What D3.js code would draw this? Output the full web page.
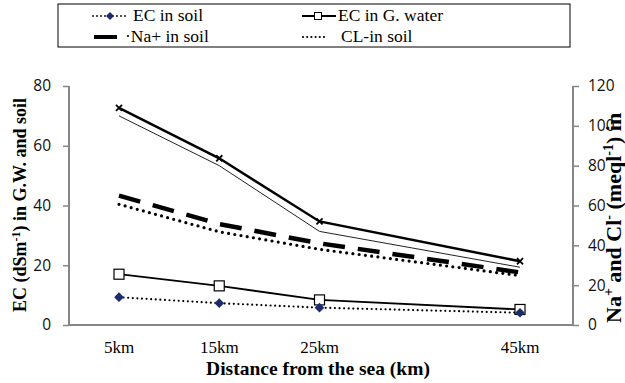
<!DOCTYPE html>
<html>
<head>
<meta charset="utf-8">
<script src="https://cdn.jsdelivr.net/npm/d3@7"></script>
<style>
  html, body { margin: 0; padding: 0; background: #fff; }
  svg { display: block; }
</style>
</head>
<body>
<svg id="chart" width="625" height="383"></svg>
<script>
// ---- data ----
const categories = ["5km", "15km", "25km", "45km"];
const distances = [5, 15, 25, 45];
const ecSoil = [9.3, 7.3, 5.8, 4.1];            // left axis
const ecGWater = [17.0, 13.1, 8.4, 5.2];        // left axis
const naSoil = [65.0, 50.7, 41.0, 26.4];        // right axis
const clSoil = [60.6, 46.8, 38.0, 24.8];        // right axis
const naGWater = [109, 83.7, 52, 32];           // right axis (unlabelled)
const clGWater = [105, 80, 47, 29];             // right axis (unlabelled)
const leftTicks = [0, 20, 40, 60, 80];
const rightTicks = [0, 20, 40, 60, 80, 100, 120];
const legendLabels = ["EC in soil", "EC in G. water", "\u00B7Na+ in soil", "CL-in soil"];

const SERIF = '"Liberation Serif"';
const SANS = '"Open Sans"';

const svg = d3.select("#chart");
const X0 = 69, X1 = 573, Y0 = 325, Y1 = 86;

const x = d3.scaleLinear().domain([5, 45]).range([119, 520]);
const yL = d3.scaleLinear().domain([0, 80]).range([Y0, Y1]);
const yR = d3.scaleLinear().domain([0, 120]).range([Y0, Y1]);

const axisColor = "#868686";

// right axis title (large, running into the page edge as in the reference)
const rt = svg.append("text").attr("transform", "translate(621,323) rotate(-90)").attr("text-anchor", "start")
  .style("font-family", SERIF).style("font-weight", "bold").style("font-size", "22px");
rt.append("tspan").text("Na");
rt.append("tspan").attr("dy", -8).style("font-size", "14px").text("+");
rt.append("tspan").attr("dy", 8).text(" and Cl");
rt.append("tspan").attr("dy", -8).style("font-size", "14px").text("-");
rt.append("tspan").attr("dy", 8).text(" (meql");
rt.append("tspan").attr("dy", -8).style("font-size", "14px").text("-1");
rt.append("tspan").attr("dy", 8).text(") in");

// axes
const gL = svg.append("g").attr("transform", `translate(${X0},0)`)
  .call(d3.axisLeft(yL).tickValues(leftTicks).tickSize(6).tickPadding(12).tickFormat(d3.format("d")));
const gR = svg.append("g").attr("transform", `translate(${X1},0)`)
  .call(d3.axisRight(yR).tickValues(rightTicks).tickSize(6).tickPadding(9).tickFormat(d3.format("d")));
[gL, gR].forEach(g => {
  g.attr("font-family", null).attr("font-size", null);
  g.select(".domain").attr("stroke", axisColor).attr("stroke-width", 2).attr("d", `M0,${Y0}V${Y1}`);
  g.selectAll(".tick line").attr("stroke", axisColor).attr("stroke-width", 1.5);
  g.selectAll(".tick text").style("font-family", SANS).style("font-size", "15.5px").attr("fill", "#111");
});

// bottom axis line
svg.append("line").attr("x1", X0).attr("x2", X1).attr("y1", Y0).attr("y2", Y0)
  .attr("stroke", axisColor).attr("stroke-width", 2);

// x labels
svg.append("g").selectAll("text").data(categories).join("text")
  .attr("x", (d, i) => x(distances[i])).attr("y", 353)
  .attr("text-anchor", "middle")
  .style("font-family", SERIF).style("font-size", "17px")
  .text(d => d);

// axis titles
svg.append("text").attr("x", 318).attr("y", 375).attr("text-anchor", "middle")
  .style("font-family", SERIF).style("font-weight", "bold").style("font-size", "19.5px")
  .text("Distance from the sea (km)");

const lt = svg.append("text").attr("transform", "translate(26,205) rotate(-90)").attr("text-anchor", "middle")
  .style("font-family", SERIF).style("font-weight", "bold").style("font-size", "18px");
lt.append("tspan").text("EC (dSm");
lt.append("tspan").attr("dy", -6).style("font-size", "12px").text("-1");
lt.append("tspan").attr("dy", 6).text(") in G.W. and soil");

// series lines
const lineL = d3.line().x((d, i) => x(distances[i])).y(d => yL(d));
const lineR = d3.line().x((d, i) => x(distances[i])).y(d => yR(d));

svg.append("path").attr("d", lineR(clGWater)).attr("fill", "none").attr("stroke", "#222").attr("stroke-width", 1);
svg.append("path").attr("d", lineR(naGWater)).attr("fill", "none").attr("stroke", "#000").attr("stroke-width", 2.5);
svg.append("path").attr("d", lineR(naSoil)).attr("fill", "none").attr("stroke", "#000").attr("stroke-width", 4.5)
  .attr("stroke-dasharray", "22,13");
svg.append("path").attr("d", lineR(clSoil)).attr("fill", "none").attr("stroke", "#000").attr("stroke-width", 3.2)
  .attr("stroke-linecap", "round").attr("stroke-dasharray", "0,6.3");
svg.append("path").attr("d", lineL(ecGWater)).attr("fill", "none").attr("stroke", "#000").attr("stroke-width", 1.8);
svg.append("path").attr("d", lineL(ecSoil)).attr("fill", "none").attr("stroke", "#000").attr("stroke-width", 2.2)
  .attr("stroke-linecap", "round").attr("stroke-dasharray", "0,4.6");

// markers
const crossSym = d3.symbol().type(d3.symbolX).size(26);
svg.append("g").selectAll("path").data(naGWater).join("path")
  .attr("transform", (d, i) => `translate(${x(distances[i])},${yR(d)})`)
  .attr("d", crossSym()).attr("stroke", "#000").attr("stroke-width", 1.8).attr("fill", "none");
svg.append("g").selectAll("rect").data(ecGWater).join("rect")
  .attr("x", (d, i) => x(distances[i]) - 5).attr("y", d => yL(d) - 5)
  .attr("width", 10).attr("height", 10).attr("fill", "#fff").attr("stroke", "#000").attr("stroke-width", 1.2);
const diamond = d3.symbol().type(d3.symbolDiamond2).size(60);
svg.append("g").selectAll("path").data(ecSoil).join("path")
  .attr("transform", (d, i) => `translate(${x(distances[i])},${yL(d)})`)
  .attr("d", diamond()).attr("fill", "#1c2b6b");

// legend
const lg = svg.append("g");
lg.append("rect").attr("x", 58).attr("y", 4).attr("width", 512).attr("height", 43)
  .attr("fill", "#fff").attr("stroke", "#000").attr("stroke-width", 1);
const legendFont = g => g.style("font-family", SERIF).style("font-size", "17.5px");
const r1 = 16, r2 = 37;
// EC in soil
lg.append("line").attr("x1", 93).attr("x2", 128).attr("y1", r1).attr("y2", r1)
  .attr("stroke", "#000").attr("stroke-width", 1.8).attr("stroke-linecap", "round").attr("stroke-dasharray", "0,4");
lg.append("path").attr("transform", `translate(110,${r1})`).attr("d", d3.symbol().type(d3.symbolDiamond2).size(40)()).attr("fill", "#1c2b6b");
lg.append("text").attr("x", 133).attr("y", r1 + 5).call(legendFont).text(legendLabels[0]);
// EC in G. water
lg.append("line").attr("x1", 302).attr("x2", 336).attr("y1", r1).attr("y2", r1).attr("stroke", "#000").attr("stroke-width", 1.8);
lg.append("rect").attr("x", 314.5).attr("y", r1 - 3.5).attr("width", 7).attr("height", 7).attr("fill", "#fff").attr("stroke", "#000").attr("stroke-width", 1);
lg.append("text").attr("x", 338).attr("y", r1 + 5).call(legendFont).text(legendLabels[1]);
// Na+ in soil
lg.append("line").attr("x1", 94).attr("x2", 117).attr("y1", r2).attr("y2", r2).attr("stroke", "#000").attr("stroke-width", 4);
lg.append("text").attr("x", 125).attr("y", r2 + 5).call(legendFont).text(legendLabels[2]);
// CL-in soil
lg.append("line").attr("x1", 303).attr("x2", 326).attr("y1", r2).attr("y2", r2)
  .attr("stroke", "#000").attr("stroke-width", 2.2).attr("stroke-linecap", "round").attr("stroke-dasharray", "0,4.2");
lg.append("text").attr("x", 341).attr("y", r2 + 5).call(legendFont).text(legendLabels[3]);
</script>
</body>
</html>
